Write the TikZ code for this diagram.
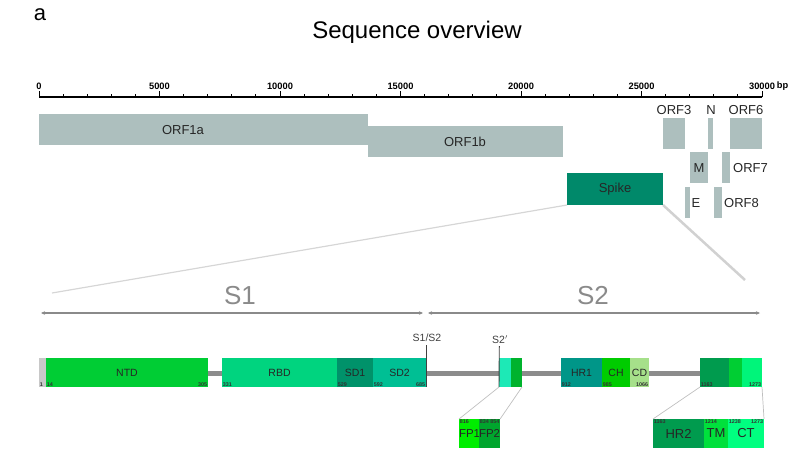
\documentclass[tikz,border=0pt]{standalone}
\usepackage{fontspec}
\setmainfont{Liberation Sans}
\usetikzlibrary{arrows.meta}
\definecolor{orfg}{HTML}{ADBFBE}
\definecolor{spk}{HTML}{00896A}
\definecolor{ntd}{HTML}{00CD34}
\definecolor{rbd}{HTML}{00D47F}
\definecolor{sdone}{HTML}{00926A}
\definecolor{sdtwo}{HTML}{00BF94}
\definecolor{fpa}{HTML}{1DE9B6}
\definecolor{fpb}{HTML}{00B32D}
\definecolor{hrone}{HTML}{009688}
\definecolor{chc}{HTML}{00CC00}
\definecolor{cdc}{HTML}{A6E08A}
\definecolor{hrtwo}{HTML}{009B4E}
\definecolor{tmc}{HTML}{00CE33}
\definecolor{ctc}{HTML}{00F57A}
\definecolor{ifpa}{HTML}{00EE00}
\definecolor{ifpb}{HTML}{00A52D}
\definecolor{itm}{HTML}{00E03C}
\definecolor{ict}{HTML}{00FF80}
\definecolor{bb}{HTML}{8C8C8C}
\definecolor{sgray}{HTML}{8A8A8A}
\definecolor{lgr}{HTML}{C8C8C8}
\begin{document}
\begin{tikzpicture}[x=1pt,y=-1pt,
  bx/.style={draw=none, inner sep=0, outer sep=0, anchor=north west, text=black!85},
  orflab/.style={font=\fontsize{13}{13}\selectfont, text=black!85, inner sep=0},
  domlab/.style={font=\fontsize{10.5}{10.5}\selectfont},
  num/.style={font=\fontsize{5.4}{6}\selectfont\bfseries, text=black!80, inner sep=0.6pt},
  tick/.style={font=\fontsize{9.3}{10}\selectfont\bfseries, inner sep=0},
  zl/.style={black!16, line width=1.3},
  sarrow/.style={sgray, line width=1.2, {Stealth[length=4pt,width=3.5pt]}-{Stealth[length=4pt,width=3.5pt]}},
  cut/.style={black!75, line width=0.9}
]
\useasboundingbox (0,0) rectangle (799,451);

% title
\node[font=\fontsize{22}{22}\selectfont, inner sep=0] (a) at (40,15) {a};
\node[font=\fontsize{24}{24}\selectfont, inner sep=0] (title) at (417,32) {Sequence overview};

% axis
\draw[line width=1.4] (39,97) -- (762,97);
\foreach \i in {0,...,30} { \draw[line width=0.9] ({39+\i*24.1},97) -- ++(0,-3); }
\foreach \i in {0,5,...,30} {
  \draw[line width=0.9] ({39+\i*24.1},97) -- ++(0,-6);
  \node[tick] (t\i) at ({39+\i*24.1},86) {\ifnum\i=0 0\else\i000\fi};
}
\node[tick, anchor=west] (bp) at (t30.east) {\,bp};

% ORFs
\node[bx, fill=orfg, minimum width=329, minimum height=31] (orf1a) at (39,114) {};
\node[orflab] at (183,130) {ORF1a};
\node[bx, fill=orfg, minimum width=195, minimum height=31] (orf1b) at (368,126) {};
\node[orflab] at (465,142) {ORF1b};
\node[bx, fill=orfg, minimum width=22, minimum height=31] (orf3) at (663,118) {};
\node[orflab] at (674,110) {ORF3};
\node[bx, fill=orfg, minimum width=5, minimum height=31] (n) at (708,118) {};
\node[orflab] at (711,110) {N};
\node[bx, fill=orfg, minimum width=32, minimum height=31] (orf6) at (730,118) {};
\node[orflab] at (746,110) {ORF6};
\node[bx, fill=orfg, minimum width=18, minimum height=31] (m) at (690,152) {};
\node[orflab] at (699,168) {M};
\node[bx, fill=orfg, minimum width=8, minimum height=31] (orf7) at (722,152) {};
\node[orflab, anchor=west] at (733,168) {ORF7};
\node[bx, fill=orfg, minimum width=5, minimum height=31] (e) at (685,187) {};
\node[orflab] at (696,203) {E};
\node[bx, fill=orfg, minimum width=8, minimum height=31] (orf8) at (714,187) {};
\node[orflab, anchor=west] at (724,203) {ORF8};
\node[bx, fill=spk, minimum width=96, minimum height=32, font=\fontsize{13}{13}\selectfont] (spike) at (567,173) {Spike};

% zoom lines
\coordinate (zl1) at (52,293);
\coordinate (zl2) at (745,280);
\draw[zl, line width=1.2] (spike.south west) -- (zl1);
\draw[zl, line width=2.5, black!18] (spike.south east) -- (zl2);

% S1 / S2
\node[font=\fontsize{26}{26}\selectfont, text=sgray, inner sep=0] (s1) at (240,296) {S1};
\node[font=\fontsize{26}{26}\selectfont, text=sgray, inner sep=0] (s2) at (593,296) {S2};
\coordinate (a1) at (41,313); \coordinate (a2) at (423,313);
\coordinate (a3) at (428,313); \coordinate (a4) at (760,313);
\draw[sarrow] (a1) -- (a2);
\draw[sarrow] (a3) -- (a4);

% backbone
\coordinate (bb1) at (46,373.5); \coordinate (bb2) at (760,373.5);
\draw[bb, line width=5.5] (bb1) -- (bb2);

% domains
\node[bx, fill=lgr, minimum width=7, minimum height=29] (d0) at (39,358) {};
\node[bx, fill=ntd, minimum width=162, minimum height=29, domlab] (ntd) at (46,358) {NTD};
\node[bx, fill=rbd, minimum width=115, minimum height=29, domlab] (rbd) at (222,358) {RBD};
\node[bx, fill=sdone, minimum width=36, minimum height=29, domlab] (sd1) at (337,358) {SD1};
\node[bx, fill=sdtwo, minimum width=53, minimum height=29, domlab] (sd2) at (373,358) {SD2};
\node[bx, fill=fpa, minimum width=12, minimum height=29] (fp1) at (499,358) {};
\node[bx, fill=fpb, minimum width=11, minimum height=29] (fp2) at (511,358) {};
\node[bx, fill=hrone, minimum width=41, minimum height=29, domlab] (hr1) at (561,358) {HR1};
\node[bx, fill=chc, minimum width=28, minimum height=29, domlab] (ch) at (602,358) {CH};
\node[bx, fill=cdc, minimum width=19, minimum height=29, domlab] (cd) at (630,358) {CD};
\node[bx, fill=hrtwo, minimum width=29, minimum height=29] (hr2) at (700,358) {};
\node[bx, fill=tmc, minimum width=13, minimum height=29] (tm) at (729,358) {};
\node[bx, fill=ctc, minimum width=20, minimum height=29] (ct) at (742,358) {};

% numbers
\node[num, anchor=south west] at (d0.south west) {1};
\node[num, anchor=south west] at (ntd.south west) {14};
\node[num, anchor=south east] at (ntd.south east) {305};
\node[num, anchor=south west] at (rbd.south west) {331};
\node[num, anchor=south west] at (sd1.south west) {529};
\node[num, anchor=south west] at (sd2.south west) {592};
\node[num, anchor=south east] at (sd2.south east) {685};
\node[num, anchor=south west] at (hr1.south west) {912};
\node[num, anchor=south west] at (ch.south west) {985};
\node[num, anchor=south east] at (cd.south east) {1066};
\node[num, anchor=south west] at (hr2.south west) {1163};
\node[num, anchor=south east] at (ct.south east) {1273};

% cleavage sites
\coordinate (c1) at (426,345);
\coordinate (c2) at (499.3,346);
\draw[cut] (c1) -- (sd2.south east);
\draw[cut] (c2) -- (fp1.south west);
\node[font=\fontsize{10.5}{10.5}\selectfont, text=black!75, inner sep=0] (s12) at (427,338) {S1/S2};
\node[font=\fontsize{10.5}{10.5}\selectfont, text=black!75, inner sep=0] (s2p) at (500,340) {S2$'$};

% FP inset
\node[bx, fill=ifpa, minimum width=20, minimum height=29, font=\fontsize{11.5}{11.5}\selectfont] (ifp1) at (459,419) {\raisebox{-3pt}{FP1}};
\node[bx, fill=ifpb, minimum width=21, minimum height=29, font=\fontsize{11.5}{11.5}\selectfont] (ifp2) at (479,419) {\raisebox{-3pt}{FP2}};
\node[num, anchor=north west] at (ifp1.north west) {816};
\node[num, anchor=north west] at (ifp2.north west) {834};
\node[num, anchor=north east] at (ifp2.north east) {854};
\draw[zl, line width=0.7, black!25] (fp1.south west) -- (ifp1.north west);
\draw[zl, line width=0.7, black!25] (fp2.south east) -- (ifp2.north east);

% HR2 inset
\node[bx, fill=hrtwo, minimum width=51, minimum height=29, font=\fontsize{13}{13}\selectfont] (ihr2) at (653,419) {\raisebox{-3pt}{HR2}};
\node[bx, fill=itm, minimum width=24, minimum height=29, font=\fontsize{13}{13}\selectfont] (itm) at (704,419) {\raisebox{-3pt}{TM}};
\node[bx, fill=ict, minimum width=36, minimum height=29, font=\fontsize{13}{13}\selectfont] (ict) at (728,419) {\raisebox{-3pt}{CT}};
\node[num, anchor=north west] at (ihr2.north west) {1163};
\node[num, anchor=north west] at (itm.north west) {1214};
\node[num, anchor=north west] at (ict.north west) {1238};
\node[num, anchor=north east] at (ict.north east) {1273};
\draw[zl, line width=0.7, black!25] (hr2.south west) -- (ihr2.north west);
\draw[zl, line width=0.7, black!25] (ct.south east) -- (ict.north east);
\end{tikzpicture}
\end{document}
